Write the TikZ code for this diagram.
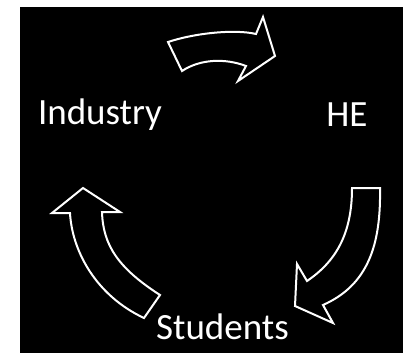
\documentclass[tikz,border=0pt]{standalone}
\usepackage{fontspec}
\setmainfont{Carlito}
\begin{document}
\begin{tikzpicture}[
  x=1pt, y=-1pt,
  lbl/.style={text=white, font=\fontsize{37}{44}\selectfont, anchor=base,
              inner sep=0pt},
  blockarr/.style={draw=white, line width=2pt, line join=miter, fill=black},
]

% page and dark panel
\useasboundingbox (0,0) rectangle (403,353);
\fill[white] (0,0) rectangle (403,353);
\fill[black] (20,7) rectangle (403,353);

% the three stages
\node[lbl] (industry) at (100,124) {Industry};
\node[lbl] (he)       at (347,126) {HE};
\node[lbl] (students) at (222.5,339) {Students};

% Industry -> HE
\draw[blockarr] (168,42) .. controls (195,33) and (235,29) .. (256,34)
  -- (263,17) -- (275,56) -- (238,81) -- (246,66)
  .. controls (225,58) and (200,59) .. (182,71) -- cycle;

% HE -> Students
\draw[blockarr] (352,188) -- (380,188)
  .. controls (381,245) and (368,285) .. (323,305)
  -- (333,323) -- (295,306) -- (297,264) -- (307,281)
  .. controls (335,262) and (352,235) .. (352,188) -- cycle;

% Students -> Industry
\draw[blockarr] (144,318) -- (160,295)
  .. controls (118,268) and (103,245) .. (102,212)
  -- (120,212) -- (83,188) -- (52,213) -- (70,213)
  .. controls (72,250) and (95,295) .. (144,318) -- cycle;

\end{tikzpicture}
\end{document}
